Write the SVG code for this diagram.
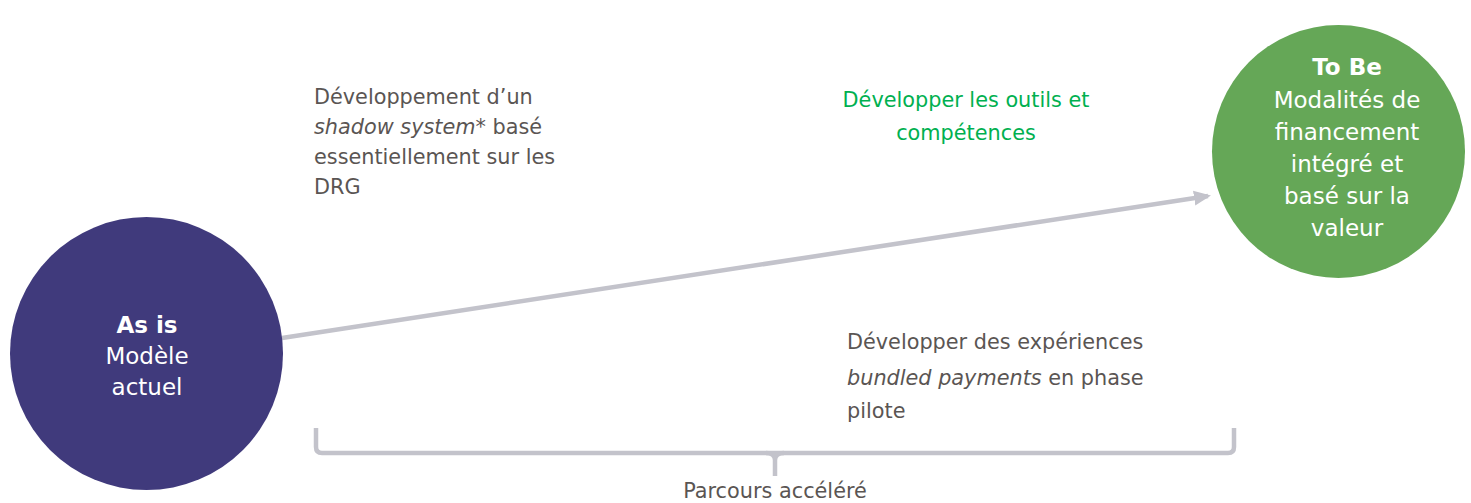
<svg xmlns="http://www.w3.org/2000/svg" width="1471" height="503" viewBox="0 0 1471 503">
<defs>
<marker id="ah" markerWidth="18" markerHeight="18" refX="14" refY="9" orient="auto" markerUnits="userSpaceOnUse">
<path d="M0,1.5 L17,9 L0,16.5 Z" fill="#C3C3CB"/>
</marker>
<style>
.t{font-family:"DejaVu Sans",Verdana,sans-serif;font-size:20.8px;fill:#5A5553}
.w{font-family:"DejaVu Sans",Verdana,sans-serif;font-size:23px;fill:#FFFFFF;text-anchor:middle}
.b{font-weight:bold}
.g{font-family:"DejaVu Sans",Verdana,sans-serif;font-size:20.8px;fill:#00B050;text-anchor:middle}
.c{fill:none;stroke:#C3C3CB;stroke-width:4.5}
</style>
</defs>
<rect width="1471" height="503" fill="#FFFFFF"/>
<g id="connectors">
<line class="c" x1="282" y1="338" x2="1208" y2="196" marker-end="url(#ah)"/>
<path class="c" d="M316,428 L316,447 Q316,453 322,453 L1228,453 Q1234,453 1234,447 L1234,428"/>
<path class="c" d="M766,453 Q775,453 775,460 L775,476 M784,453 Q775,453 775,460"/>
</g>
<g id="as-is">
<circle cx="146.5" cy="353.5" r="136.5" fill="#403A7C"/>
<text class="w b" x="147" y="333">As is</text>
<text class="w" x="147" y="364">Modèle</text>
<text class="w" x="147" y="395">actuel</text>
</g>
<g id="to-be">
<circle cx="1338.5" cy="151.5" r="126.5" fill="#65A757"/>
<text class="w b" x="1347" y="75">To Be</text>
<text class="w" x="1347" y="108">Modalités de</text>
<text class="w" x="1347" y="140">financement</text>
<text class="w" x="1347" y="172">intégré et</text>
<text class="w" x="1347" y="204">basé sur la</text>
<text class="w" x="1347" y="236">valeur</text>
</g>
<g id="label-shadow">
<text class="t" x="314" y="104">Développement d’un</text>
<text class="t" x="314" y="134"><tspan font-style="italic">shadow system</tspan>* basé</text>
<text class="t" x="314" y="164">essentiellement sur les</text>
<text class="t" x="314" y="194">DRG</text>
</g>
<g id="label-outils">
<text class="g" x="966" y="107">Développer les outils et</text>
<text class="g" x="966" y="140">compétences</text>
</g>
<g id="label-bundled">
<text class="t" x="847" y="349">Développer des expériences</text>
<text class="t" x="847" y="385"><tspan font-style="italic">bundled payments</tspan> en phase</text>
<text class="t" x="847" y="418">pilote</text>
</g>
<g id="label-parcours">
<text class="t" x="775" y="498" text-anchor="middle">Parcours accéléré</text>
</g>
</svg>
